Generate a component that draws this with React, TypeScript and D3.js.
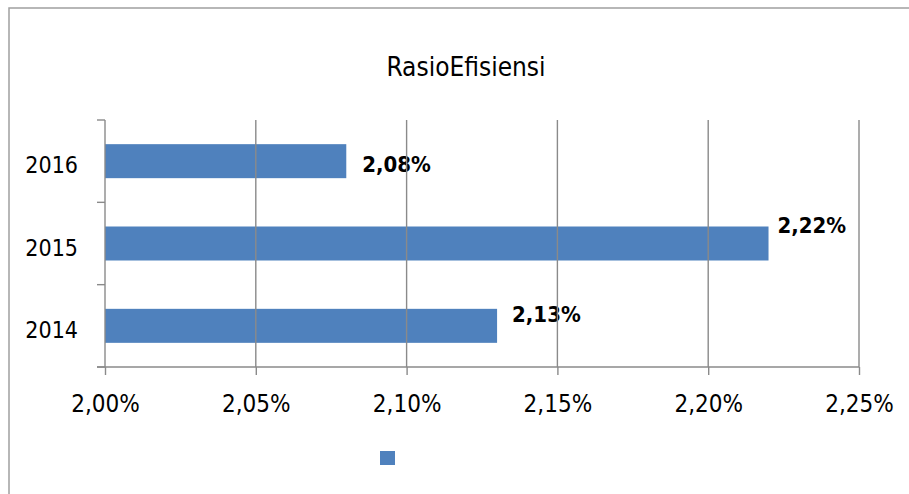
import React, { useEffect, useRef } from "react";
import * as d3 from "d3";

const years = ["2014", "2015", "2016"];
const rasio = [2.13, 2.22, 2.08];
const xTicks = [2.0, 2.05, 2.1, 2.15, 2.2, 2.25];
const title = "RasioEfisiensi";

// manual nudges of the value labels, as in the original (dx, baseline offset)
const labelNudge: Record<string, [number, number]> = {
  "2014": [15, -4],
  "2015": [9, -11],
  "2016": [16, 10.5],
};

const FONT = "'DejaVu Sans Condensed', 'Liberation Sans', sans-serif";
const BAR = "#4F81BD";
const GRID = "#8a8a8a";

const fmt = (v: number) => v.toFixed(2).replace(".", ",") + "%";

export default function App() {
  const svgRef = useRef<SVGSVGElement>(null);

  useEffect(() => {
    const width = 909;
    const height = 494;
    const left = 105;
    const right = 859;
    const top = 120;
    const bottom = 367;

    const svg = d3.select(svgRef.current);
    svg.selectAll("*").remove();
    svg.attr("width", width).attr("height", height);

    // chart frame (right and bottom edges fall outside the picture)
    svg
      .append("rect")
      .attr("x", 9)
      .attr("y", 8)
      .attr("width", 920)
      .attr("height", 520)
      .attr("fill", "white")
      .attr("stroke", "#a0a0a0")
      .attr("stroke-width", 1.5);

    const x = d3.scaleLinear().domain([2.0, 2.25]).range([left, right]);
    const y = d3
      .scaleBand<string>()
      .domain(years)
      .range([bottom, top])
      .paddingInner(0.587)
      .paddingOuter(0.2935);

    const data = years.map((yr, i) => ({ year: yr, value: rasio[i] }));

    // title
    svg
      .append("text")
      .attr("x", 466)
      .attr("y", 76)
      .attr("text-anchor", "middle")
      .style("font-family", FONT)
      .style("font-size", "26px")
      .attr("fill", "#000")
      .text(title);

    // bars
    svg
      .selectAll("rect.bar")
      .data(data)
      .join("rect")
      .attr("class", "bar")
      .attr("x", x(2.0))
      .attr("y", (d) => y(d.year)!)
      .attr("width", (d) => x(d.value) - x(2.0))
      .attr("height", y.bandwidth())
      .attr("fill", BAR);

    // value labels
    svg
      .selectAll("text.val")
      .data(data)
      .join("text")
      .attr("class", "val")
      .attr("x", (d) => x(d.value) + labelNudge[d.year][0])
      .attr("y", (d) => y(d.year)! + y.bandwidth() / 2 + labelNudge[d.year][1])
      .style("font-family", FONT)
      .style("font-size", "22px")
      .style("font-weight", "bold")
      .attr("fill", "#000")
      .text((d) => fmt(d.value));

    // vertical gridlines
    svg
      .selectAll("line.grid")
      .data(xTicks.slice(1))
      .join("line")
      .attr("class", "grid")
      .attr("x1", (d) => x(d))
      .attr("x2", (d) => x(d))
      .attr("y1", top)
      .attr("y2", bottom)
      .attr("stroke", GRID)
      .attr("stroke-width", 1.4);

    // x axis
    const xAxis = svg
      .append("g")
      .attr("transform", `translate(0,${bottom})`)
      .call(
        d3
          .axisBottom(x)
          .tickValues(xTicks)
          .tickSize(8)
          .tickPadding(20)
          .tickFormat((d) => fmt(d as number))
      );
    xAxis.select(".domain").attr("stroke", GRID).attr("stroke-width", 1.4).attr("d", `M${left - 8},0H${right}`);
    xAxis.selectAll(".tick line").attr("stroke", GRID).attr("stroke-width", 1.4);
    xAxis
      .selectAll(".tick text")
      .style("font-family", FONT)
      .style("font-size", "24px")
      .attr("fill", "#000")
      .attr("dy", "0.71em");

    // y axis: ticks sit on band edges
    const yg = svg.append("g");
    yg.append("line")
      .attr("x1", left)
      .attr("x2", left)
      .attr("y1", top)
      .attr("y2", bottom)
      .attr("stroke", GRID)
      .attr("stroke-width", 1.4);
    const edges = d3.range(years.length + 1).map((i) => bottom - (i * (bottom - top)) / years.length);
    yg.selectAll("line.ytick")
      .data(edges)
      .join("line")
      .attr("class", "ytick")
      .attr("x1", left - 8)
      .attr("x2", left)
      .attr("y1", (d) => d)
      .attr("y2", (d) => d)
      .attr("stroke", GRID)
      .attr("stroke-width", 1.4);
    yg.selectAll("text.ylab")
      .data(years)
      .join("text")
      .attr("class", "ylab")
      .attr("x", 78)
      .attr("y", (d) => y(d)! + y.bandwidth() / 2 + 12)
      .attr("text-anchor", "end")
      .style("font-family", FONT)
      .style("font-size", "23px")
      .attr("fill", "#000")
      .text((d) => d);

    // legend marker (no series name)
    svg
      .append("rect")
      .attr("x", 380)
      .attr("y", 451)
      .attr("width", 15)
      .attr("height", 14)
      .attr("fill", BAR);
  }, []);

  return (
    <svg
      ref={svgRef}
      style={{ position: "absolute", left: 0, top: 0, display: "block" }}
    />
  );
}
